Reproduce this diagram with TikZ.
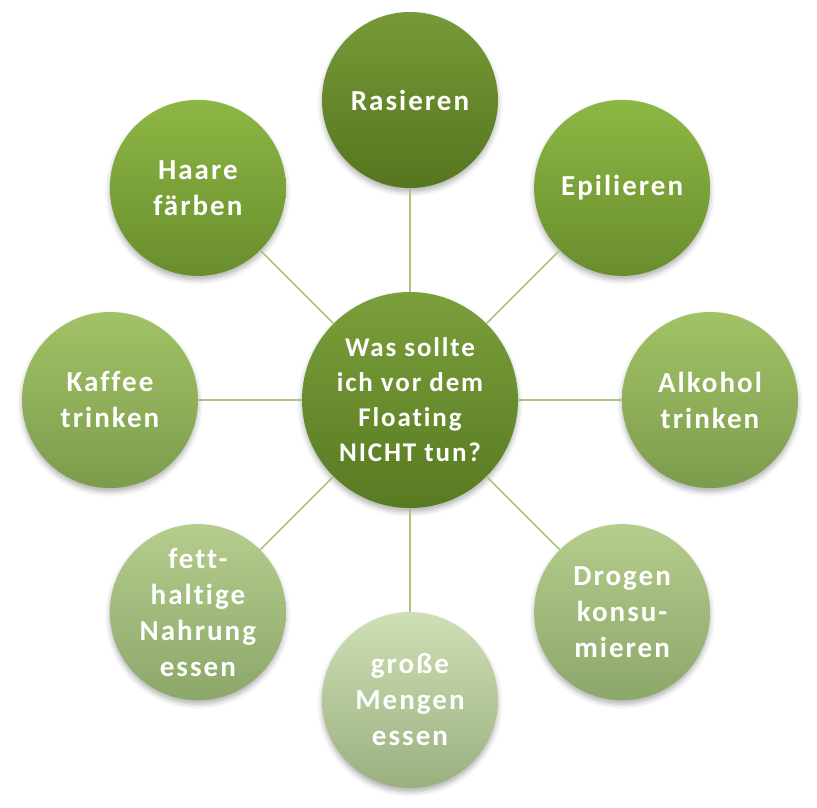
\documentclass[tikz,border=0pt]{standalone}
\usepackage{fontspec}
\setmainfont{Carlito}[LetterSpace=7,Ligatures=NoCommon]
\usetikzlibrary{shadows.blur}

\definecolor{hubtop}{HTML}{7B9F3B}
\definecolor{hubbot}{HTML}{587A22}
\definecolor{darktop}{HTML}{779A38}
\definecolor{darkbot}{HTML}{55761E}
\definecolor{midtop}{HTML}{8DB744}
\definecolor{midbot}{HTML}{698D2D}
\definecolor{lighttop}{HTML}{A2C266}
\definecolor{lightbot}{HTML}{7C9C4D}
\definecolor{palertop}{HTML}{B5CD8D}
\definecolor{palerbot}{HTML}{8BA769}
\definecolor{palesttop}{HTML}{CFDFB6}
\definecolor{palestbot}{HTML}{9AB07F}
\definecolor{spokeline}{HTML}{A9C580}

\tikzset{
  bubble/.style = {shape=circle, minimum size=176pt, inner sep=0pt,
                   align=center, text=white,
                   font=\fontsize{29}{36}\selectfont\bfseries,
                   blur shadow={shadow xshift=0pt, shadow yshift=-4pt,
                                shadow blur radius=5pt, shadow opacity=30}},
  hub/.style    = {bubble, minimum size=216pt,
                   font=\fontsize{27}{35}\selectfont\bfseries,
                   top color=hubtop, bottom color=hubbot},
  dark/.style   = {bubble, top color=darktop, bottom color=darkbot},
  mid/.style    = {bubble, top color=midtop, bottom color=midbot},
  light/.style  = {bubble, top color=lighttop, bottom color=lightbot},
  paler/.style  = {bubble, top color=palertop, bottom color=palerbot},
  palest/.style = {bubble, top color=palesttop, bottom color=palestbot},
  spoke/.style  = {draw=spokeline, line width=1.6pt}
}

\begin{document}
\begin{tikzpicture}
\useasboundingbox (-410pt,-408pt) rectangle (407pt,400pt);

% center question
\node[hub] (frage) at (0,0) {Was sollte\\ich vor dem\\Floating\\NICHT tun?};

% things not to do
\node[dark]   (rasieren) at (90:300pt)  {Rasieren};
\node[mid]    (epilieren) at (45:300pt) {Epilieren};
\node[light]  (alkohol) at (0:300pt)    {Alkohol\\trinken};
\node[paler]  (drogen) at (-45:300pt)   {Drogen\\konsu-\\mieren};
\node[palest] (mengen) at (-90:300pt)   {große\\Mengen\\essen};
\node[paler]  (fett) at (-135:300pt)    {fett-\\haltige\\Nahrung\\essen};
\node[light]  (kaffee) at (180:300pt)   {Kaffee\\trinken};
\node[mid]    (haare) at (135:300pt)    {Haare\\färben};

% spokes
\draw[spoke] (frage) -- (rasieren);
\draw[spoke] (frage) -- (epilieren);
\draw[spoke] (frage) -- (alkohol);
\draw[spoke] (frage) -- (drogen);
\draw[spoke] (frage) -- (mengen);
\draw[spoke] (frage) -- (fett);
\draw[spoke] (frage) -- (kaffee);
\draw[spoke] (frage) -- (haare);
\end{tikzpicture}
\end{document}
